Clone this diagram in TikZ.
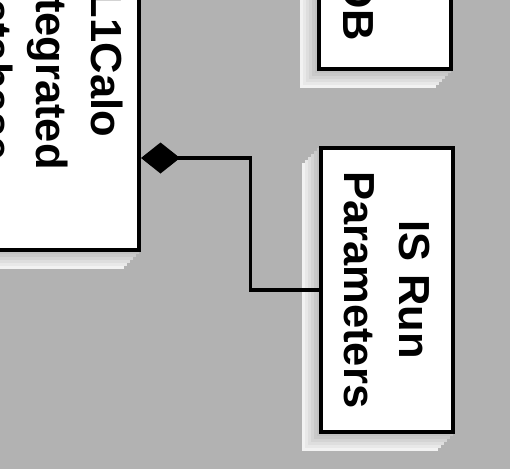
\documentclass[tikz,border=0pt]{standalone}
\usepackage{fontspec}
\setmainfont{Liberation Sans}
\usetikzlibrary{arrows.meta}
\definecolor{bg}{gray}{0.7}
\tikzset{
  umlbox/.style={draw=black, fill=white, line width=4pt, rotate=-90, align=center,
    inner sep=0pt, font=\fontsize{43.5}{55}\selectfont\bfseries},
  boxtext/.style={rotate=-90, inner sep=0pt, font=\fontsize{43.5}{55}\selectfont\bfseries},
  conn/.style={draw=black, line width=3.5pt},
}
\newcommand{\dropshadow}[4]{%
  \foreach \k/\g in {17/0.95, 14/0.91, 11/0.87, 8/0.83, 5/0.79, 2/0.76}{
    \definecolor{shd}{gray}{\g}
    \fill[shd] (#1-\k,#2+\k) rectangle (#3-\k,#4+\k);
  }}
\begin{document}
\begin{tikzpicture}[x=1pt,y=-1pt]
\fill[bg] (0,0) rectangle (510,469);
\useasboundingbox (0,0) rectangle (510,469);
\begin{scope}
\clip (0,0) rectangle (510,469);
% shadows
\dropshadow{-36}{-122.5}{141}{251.5}
\dropshadow{317}{-202}{453}{71}
\dropshadow{319}{146}{455}{433.5}
% boxes
\node[umlbox, minimum width=370pt, minimum height=173pt] (lbox) at (52.5,64.5)
  {L1Calo\\Integrated\\Database};
\node[umlbox, minimum width=269pt, minimum height=132pt] (db) at (385,-65.5) {};
\node[boxtext, anchor=base east] (dbtext) at (343,41) {DB};
\node[umlbox, minimum width=283.5pt, minimum height=132pt] (isrun) at (387,289.75)
  {IS Run\\Parameters};
% connector
\coordinate (dy) at (0,158);
\coordinate (bend) at (250.5,220);
\draw[conn, {Diamond[length=39pt,width=31pt,line width=0pt]}-]
  (lbox.north |- dy) -| (bend) |- (isrun.south);
\end{scope}
\end{tikzpicture}
\end{document}
